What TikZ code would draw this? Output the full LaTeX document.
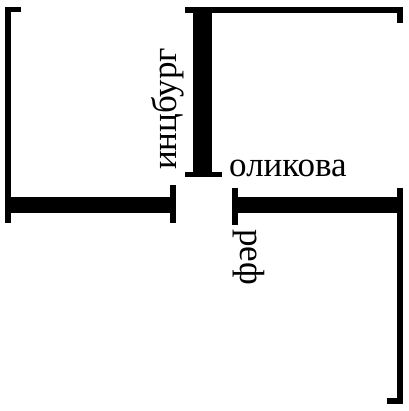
\documentclass[tikz,border=0pt]{standalone}
\usepackage{fontspec}
\setmainfont{Liberation Serif}
\def \thinWidth {5.5pt}
\def \beamWidth {16pt}
\tikzset{
  wall/.style={line width=\thinWidth},
  beam/.style={line width=\beamWidth},
  street/.style={font=\fontsize{35}{41}\selectfont, inner sep=0pt}
}
\begin{document}
\begin{tikzpicture}[x=1pt, y=-1pt]
         \useasboundingbox (0,0) rectangle (408,411);
         \draw[wall] (8,7) -- (8,223);
         \draw[wall] (5,9.5) -- (21,9.5);
         \draw[beam] (8,205) -- (173,205);
         \draw[wall] (173,185) -- (173,223);
         \draw[wall] (185,10) -- (402.5,10);
         \draw[line width=19pt] (202.5,10) -- (202.5,175);
         \draw[wall] (185,174.5) -- (222,174.5);
         \draw[wall] (400,7) -- (400,23);
         \draw[wall] (235,188) -- (235,225);
         \draw[beam] (235,205) -- (400,205);
         \draw[wall] (400,188) -- (400,403);
         \draw[wall] (387,401) -- (403,401);
         \node[street, rotate=90, anchor=base west] (inzburg) at (176,170) {инцбург};
         \node[street, anchor=base west] (olikova) at (229,177) {оликова};
         \node[street, rotate=-90, anchor=base west] (ref) at (240,229) {реф};
      \end{tikzpicture}
\end{document}
